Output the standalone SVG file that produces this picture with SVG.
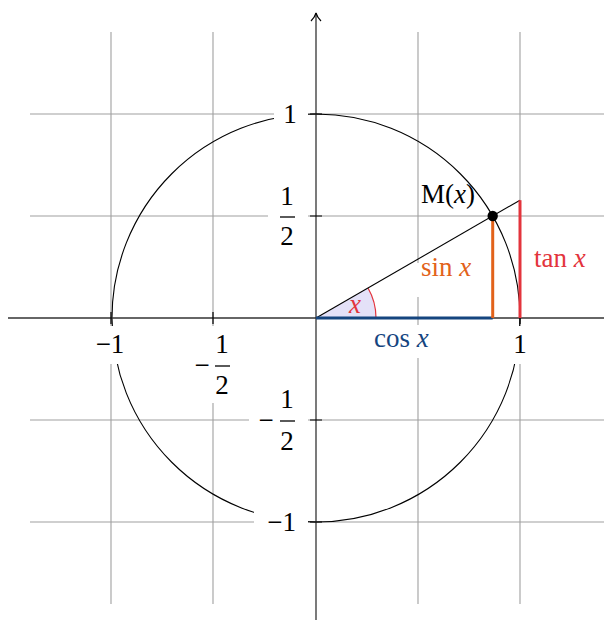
<svg xmlns="http://www.w3.org/2000/svg" width="604" height="620" viewBox="0 0 604 620">
<style>
.grid{stroke:#a0a0a0;stroke-width:1.1;fill:none}
.bg{fill:#fff;stroke:none}
.ax{stroke:#333;stroke-width:1.3;fill:none}
.tick{stroke:#000;stroke-width:1.2}
text{font-family:"Liberation Serif","Times New Roman",serif;font-size:27px;fill:#000}
.it{font-style:italic}
.bar{stroke:#000;stroke-width:1.3}
</style>
<defs>
<marker id="arr" markerWidth="14" markerHeight="12" refX="10" refY="6" orient="auto" markerUnits="userSpaceOnUse">
<path d="M2,1 Q6,5 10,6 Q6,7 2,11" fill="none" stroke="#000" stroke-width="1.2"/>
</marker>
</defs>
<g id="grid">
<path class="grid" d="M30,114H604M30,216H604M30,420H604M30,522H604M111,32V604M213,32V604M418,32V604M520,32V604"/>
</g>
<g id="circle"><circle cx="316" cy="318" r="204" fill="none" stroke="#000" stroke-width="1.1"/></g>
<g id="label-bgs">
<rect class="bg" x="274" y="100" width="34" height="30"/>
<rect class="bg" x="268" y="180" width="40" height="72"/>
<rect class="bg" x="249" y="388" width="59" height="68"/>
<rect class="bg" x="254" y="505" width="54" height="35"/>
<rect class="bg" x="88" y="326" width="46" height="38"/>
<rect class="bg" x="188" y="326" width="52" height="77"/>
<rect class="bg" x="505" y="326" width="30" height="38"/>
<rect class="bg" x="368" y="325" width="72" height="33"/>
<rect class="bg" x="416" y="263" width="68" height="34"/>
</g>
<g id="angle">
<path d="M316,318 L376,318 A60,60 0 0 0 368,288 Z" fill="#e4e1f8"/>
<path d="M376,318 A60,60 0 0 0 368,288" fill="none" stroke="#e3343c" stroke-width="1.2"/>
</g>
<g id="axes">
<line class="ax" x1="8" y1="318" x2="604" y2="318"/>
<line class="ax" x1="316" y1="620" x2="316" y2="13" marker-end="url(#arr)" stroke="#000"/>
<path class="tick" d="M111,312V324M213,312V324M520,312V324M310,114H322M310,216H322M310,420H322M310,522H322"/>
</g>
<g id="connectors">
<line x1="316" y1="318" x2="520" y2="200.2" stroke="#000" stroke-width="1.1"/>
<line x1="316" y1="318" x2="492.7" y2="318" stroke="#15457f" stroke-width="3"/>
<line x1="492.7" y1="318" x2="492.7" y2="216" stroke="#e2621a" stroke-width="3"/>
<line x1="520" y1="318" x2="520" y2="200.2" stroke="#e3343c" stroke-width="3"/>
</g>
<g id="M"><circle cx="492.7" cy="216" r="5.2" fill="#000"/>
<text x="421" y="203">M(<tspan class="it">x</tspan>)</text></g>
<g id="labels">
<text x="290" y="123" text-anchor="middle">1</text>
<text x="287" y="205" text-anchor="middle">1</text><line class="bar" x1="280" y1="217" x2="295" y2="217"/><text x="287" y="245" text-anchor="middle">2</text>
<text x="266" y="429" text-anchor="middle">−</text><text x="287" y="408" text-anchor="middle">1</text><line class="bar" x1="280" y1="421" x2="295" y2="421"/><text x="287" y="450" text-anchor="middle">2</text>
<text x="296" y="531" text-anchor="end">−1</text>
<text x="110" y="353" text-anchor="middle">−1</text>
<text x="202" y="374" text-anchor="middle">−</text><text x="222" y="353" text-anchor="middle">1</text><line class="bar" x1="215" y1="366" x2="230" y2="366"/><text x="222" y="394" text-anchor="middle">2</text>
<text x="520" y="353" text-anchor="middle">1</text>
<text x="374" y="347" style="fill:#15457f">cos <tspan class="it">x</tspan></text>
<text x="421" y="276" style="fill:#e2621a">sin <tspan class="it">x</tspan></text>
<text x="534" y="267" style="fill:#e3343c">tan <tspan class="it">x</tspan></text>
<text x="355" y="313" text-anchor="middle" class="it" style="fill:#e3343c">x</text>
</g>
</svg>
